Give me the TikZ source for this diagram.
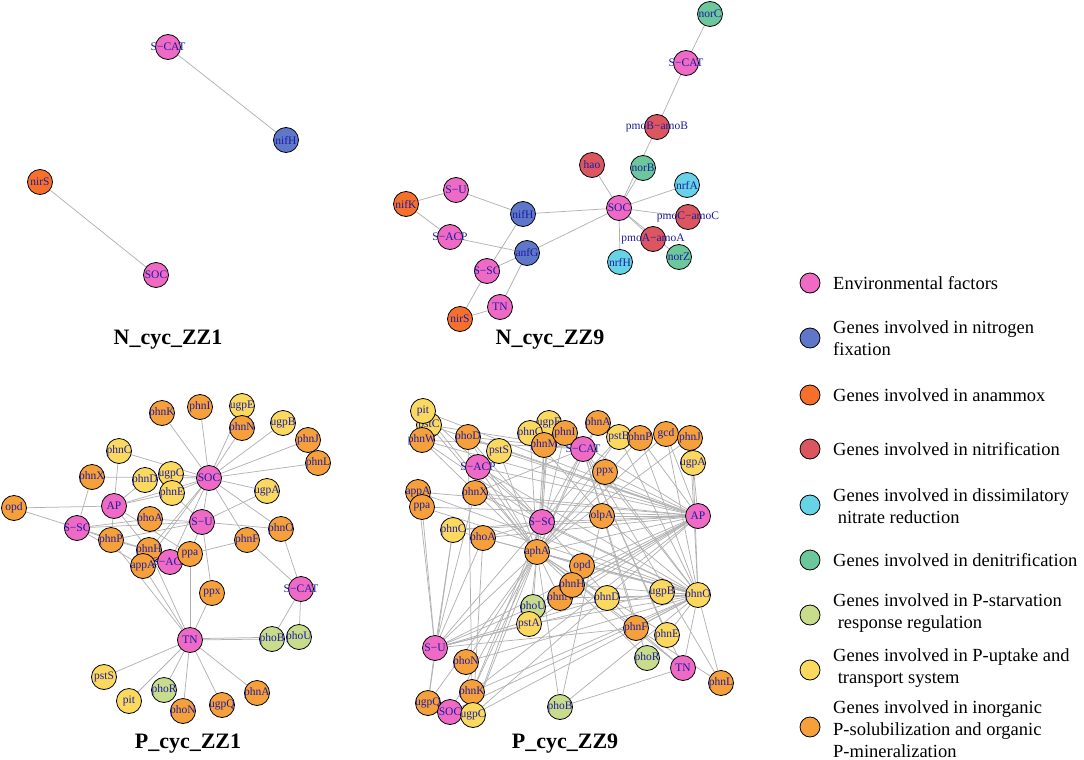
\documentclass[tikz,border=0pt]{standalone}
\usepackage{fontspec}
\setmainfont{Liberation Serif}
\usetikzlibrary{backgrounds}

\definecolor{envpink}{RGB}{238,106,196}
\definecolor{fixblue}{RGB}{94,119,201}
\definecolor{anamorange}{RGB}{246,112,44}
\definecolor{nitrred}{RGB}{220,86,96}
\definecolor{dnracyan}{RGB}{102,211,230}
\definecolor{denitgreen}{RGB}{108,199,157}
\definecolor{starvegreen}{RGB}{200,220,140}
\definecolor{uptakeyellow}{RGB}{251,217,95}
\definecolor{minorange}{RGB}{246,160,60}
\definecolor{labblue}{RGB}{28,28,160}

\begin{document}
\begin{tikzpicture}[x=1pt, y=-1pt,
  gene/.style={circle, draw=black, line width=0.8pt, minimum size=25pt, inner sep=0pt, label={[glabel]center:#1}},
  glabel/.style={text=labblue, font=\fontsize{11.5}{11.5}\selectfont, inner sep=0pt},
  env/.style={gene=#1, fill=envpink},
  nfix/.style={gene=#1, fill=fixblue},
  anam/.style={gene=#1, fill=anamorange},
  nitr/.style={gene=#1, fill=nitrred},
  dnra/.style={gene=#1, fill=dnracyan},
  denit/.style={gene=#1, fill=denitgreen},
  starve/.style={gene=#1, fill=starvegreen},
  uptake/.style={gene=#1, fill=uptakeyellow},
  mineral/.style={gene=#1, fill=minorange},
  link/.style={draw=gray!60, line width=0.75pt},
  title/.style={font=\fontsize{22}{22}\selectfont\bfseries},
  legdot/.style={circle, draw=black, line width=0.8pt, minimum size=20pt, inner sep=0pt},
  legtext/.style={anchor=west, align=left, font=\fontsize{18.5}{22}\selectfont, inner sep=0pt}
]
\useasboundingbox (0,0) rectangle (1084,760);

% N_cyc_ZZ1
\node[env=S−CAT] (ascat) at (168,47) {};
\node[nfix=nifH] (anifH) at (286,140) {};
\node[anam=nirS] (anirS) at (40,182) {};
\node[env=SOC] (asoc) at (156,275) {};
\node[title] (tN1) at (168,340) {N\_cyc\_ZZ1};

% N_cyc_ZZ9
\node[denit=norC] (bnorC) at (710,14) {};
\node[env=S−CAT] (bscat) at (686,63) {};
\node[nitr=pmoB−amoB] (bpmoB) at (657,127) {};
\node[nitr=hao] (bhao) at (592,165) {};
\node[denit=norB] (bnorB) at (643,168) {};
\node[dnra=nrfA] (bnrfA) at (687,185) {};
\node[env=SOC] (bsoc) at (619,208) {};
\node[nitr=pmoC−amoC] (bpmoC) at (688,217) {};
\node[nitr=pmoA−amoA] (bpmoA) at (653,239) {};
\node[denit=norZ] (bnorZ) at (679,257) {};
\node[dnra=nrfH] (bnrfH) at (620,262) {};
\node[env=S−U] (bsu) at (456,190) {};
\node[anam=nifK] (bnifK) at (406,204) {};
\node[nfix=nifH] (bnifH) at (523,214) {};
\node[env=S−ACP] (bsacp) at (450,237) {};
\node[nfix=anfG] (banfG) at (527,253) {};
\node[env=S−SC] (bssc) at (487,271) {};
\node[env=TN] (btn) at (500,307) {};
\node[anam=nirS] (bnirS) at (460,319) {};
\node[title] (tN9) at (550,340) {N\_cyc\_ZZ9};

% P_cyc_ZZ1
\node[mineral=phnK] (cphnK) at (162,413) {};
\node[mineral=phnI] (cphnI) at (200,407) {};
\node[uptake=ugpE] (cugpE) at (242,406) {};
\node[mineral=phnN] (cphnN) at (242,428) {};
\node[uptake=ugpB] (cugpB) at (283,423) {};
\node[mineral=phnJ] (cphnJ) at (308,440) {};
\node[mineral=phnL] (cphnL) at (318,463) {};
\node[uptake=phnC] (cphnC) at (119,451) {};
\node[uptake=ugpC] (cugpC) at (171,474) {};
\node[mineral=phnX] (cphnX) at (92,477) {};
\node[uptake=phnD] (cphnD) at (145,480) {};
\node[uptake=phnE] (cphnE) at (172,493) {};
\node[env=SOC] (csoc) at (209,478) {};
\node[uptake=ugpA] (cugpA) at (267,491) {};
\node[mineral=opd] (copd) at (14,508) {};
\node[env=AP] (cap) at (114,506) {};
\node[mineral=phoA] (cphoA) at (150,519) {};
\node[env=S−U] (csu) at (202,522) {};
\node[env=S−SC] (cssc) at (77,528) {};
\node[mineral=phnO] (cphnO) at (281,529) {};
\node[mineral=phnP] (cphnP) at (111,540) {};
\node[mineral=phnF] (cphnF) at (247,540) {};
\node[mineral=phnH] (cphnH) at (149,550) {};
\node[mineral=appA] (cappA) at (143,566) {};
\node[env=S−ACP] (csacp) at (170,562) {};
\node[mineral=ppa] (cppa) at (190,554) {};
\node[mineral=ppx] (cppx) at (212,593) {};
\node[env=S−CAT] (cscat) at (301,589) {};
\node[env=TN] (ctn) at (190,640) {};
\node[starve=phoB] (cphoB) at (272,639) {};
\node[starve=phoU] (cphoU) at (299,637) {};
\node[uptake=pstS] (cpstS) at (104,677) {};
\node[uptake=pit] (cpit) at (129,701) {};
\node[starve=phoR] (cphoR) at (164,690) {};
\node[mineral=phoN] (cphoN) at (183,711) {};
\node[mineral=ugpQ] (cugpQ) at (222,705) {};
\node[mineral=phnA] (cphnA) at (257,693) {};
\node[title] (tP1) at (188,744) {P\_cyc\_ZZ1};

% P_cyc_ZZ9
\node[uptake=pstC] (dpstC) at (429,425) {};
\node[uptake=pit] (dpit) at (423,411) {};
\node[mineral=phnW] (dphnW) at (422,440) {};
\node[mineral=phoD] (dphoD) at (468,437) {};
\node[uptake=ugpE] (dugpE) at (549,423) {};
\node[uptake=phnC] (dphnCa) at (530,433) {};
\node[mineral=phnM] (dphnM) at (544,445) {};
\node[mineral=phnI] (dphnI) at (565,433) {};
\node[uptake=pstS] (dpstS) at (499,451) {};
\node[env=S−ACP] (dsacp) at (478,467) {};
\node[mineral=phnA] (dphnA) at (598,423) {};
\node[env=S−CAT] (dscat) at (583,449) {};
\node[uptake=pstB] (dpstB) at (619,437) {};
\node[mineral=phnP] (dphnP) at (640,438) {};
\node[mineral=gcd] (dgcd) at (666,434) {};
\node[mineral=phnJ] (dphnJ) at (690,438) {};
\node[uptake=ugpA] (dugpA) at (693,463) {};
\node[mineral=ppx] (dppx) at (605,472) {};
\node[mineral=appA] (dappA) at (418,492) {};
\node[mineral=ppa] (dppa) at (422,507) {};
\node[mineral=phnX] (dphnX) at (475,493) {};
\node[mineral=olpA] (dolpA) at (602,516) {};
\node[env=AP] (dap) at (698,516) {};
\node[env=S−SC] (dssc) at (542,522) {};
\node[uptake=phnC] (dphnCb) at (453,530) {};
\node[mineral=phoA] (dphoA) at (483,538) {};
\node[mineral=aphA] (daphA) at (537,552) {};
\node[mineral=opd] (dopd) at (582,566) {};
\node[mineral=phnN] (dphnN) at (560,598) {};
\node[mineral=phnH] (dphnH) at (572,585) {};
\node[uptake=phnD] (dphnD) at (607,598) {};
\node[uptake=ugpB] (dugpB) at (662,592) {};
\node[uptake=phnO] (dphnO) at (698,595) {};
\node[starve=phoU] (dphoU) at (533,607) {};
\node[uptake=pstA] (dpstA) at (529,624) {};
\node[mineral=phnF] (dphnF) at (636,628) {};
\node[uptake=phnE] (dphnE) at (667,635) {};
\node[starve=phoR] (dphoR) at (647,658) {};
\node[env=TN] (dtn) at (683,668) {};
\node[mineral=phnL] (dphnL) at (721,683) {};
\node[starve=phoB] (dphoB) at (560,707) {};
\node[env=S−U] (dsu) at (435,648) {};
\node[mineral=phoN] (dphoN) at (466,662) {};
\node[mineral=phnK] (dphnK) at (472,692) {};
\node[mineral=ugpQ] (dugpQ) at (428,703) {};
\node[env=SOC] (dsoc) at (450,712) {};
\node[uptake=ugpC] (dugpC) at (473,715) {};
\node[title] (tP9) at (565,744) {P\_cyc\_ZZ9};

% Edges behind the nodes
\begin{scope}[on background layer]
\draw[link] (ascat) -- (anifH);
\draw[link] (anirS) -- (asoc);

\draw[link] (bnorC) -- (bscat);
\draw[link] (bscat) -- (bpmoB);
\draw[link] (bpmoB) -- (bsoc);
\foreach \t in {hao,norB,nrfA,pmoC,pmoA,norZ,nrfH,nifH,anfG}
  \draw[link] (bsoc) -- (b\t);
\draw[link] (bsu) -- (bnifK);
\draw[link] (bsu) -- (bnifH);
\draw[link] (bnifK) -- (bsacp);
\draw[link] (bsacp) -- (banfG);
\draw[link] (bnifH) -- (bssc);
\draw[link] (bssc) -- (banfG);
\draw[link] (banfG) -- (btn);
\draw[link] (bssc) -- (bnirS);
\draw[link] (bnirS) -- (btn);

\foreach \t in {phnK,phnI,ugpE,phnN,ugpB,phnJ,phnL,phnC,ugpC,phnX,phnE,ugpA,ap,su,phnO,phnF,sacp,appA,phnH}
  \draw[link] (csoc) -- (c\t);
\foreach \t in {phnC,phnD,phnE,opd,phnP,ppa,phnH}
  \draw[link] (cap) -- (c\t);
\foreach \t in {opd,phnX,phoA,su,phnH,appA,phnP}
  \draw[link] (cssc) -- (c\t);
\foreach \t in {phnE,ugpA,phnO,phnP,ppa,ppx,phoA}
  \draw[link] (csu) -- (c\t);
\draw[link] (cphnF) -- (cscat);
\draw[link] (cphnO) -- (cscat);
\draw[link] (cphnF) -- (cppa);
\draw[link] (cscat) -- (cphoB);
\draw[link] (cscat) -- (cphoU);
\draw[link] (cphnP) -- (cphnH);
\foreach \t in {phoB,ppx,ppa,appA,phnH,phnP,pstS,pit,phoR,phoN,ugpQ,phnA}
  \draw[link] (ctn) -- (c\t);
\draw[link] ([yshift=1.5pt]ctn.east) -- ([yshift=1.5pt]cphoB.west);

\foreach \t in {pit,pstC,phnW,phoD,pstS,sacp,phnX,appA,ppa,ssc,phnCb,phoA,aphA,opd,phnH,phnN,phoU,pstA,su,phnK,ugpC,ugpA,gcd,phnP,phnI,ppx,olpA}
  \draw[link] (dap) -- (d\t);
\foreach \t in {ugpA,phnJ,gcd,pstB,phnP,scat,ppx,olpA,ugpB,phnD,phnH,opd,aphA,ssc,phoA,phnX,ppa,appA,phnCb,phoU,pstA,phnN,phnK,soc,ugpC,phoN,phoB,phnE,phnF,tn,phnL,sacp}
  \draw[link] (dphnO) -- (d\t);
\foreach \t in {pit,pstC,phnW,phoD,pstS,sacp,phnCa,ugpE,phnM,phnI,scat,phnA,pstB,phnP,gcd,phnJ,ppx,phoU,pstA,su,phoN,phnK,ugpC,soc,ugpQ,phoB,phnF,phnE,phoR,tn,phnD,phnN,opd}
  \draw[link] (daphA) -- (d\t);
\foreach \t in {phnW,phoD,pit,sacp,phnM,ugpE,phnA,pstB,phnCb,phoA,phnK,ugpC,su,phnF}
  \draw[link] (dssc) -- (d\t);
\foreach \t in {phnCb,phoA,phnX,appA,ppa,ugpQ,pstA,phoU,phnD,ugpB,phnF}
  \draw[link] (dsu) -- (d\t);
\foreach \t in {phnW,pstC,phoD,phnX,phnF,phnE,phoR,tn,phnL}
  \draw[link] (dscat) -- (d\t);
\draw[link] (dtn) -- (dphnF);
\draw[link] (dtn) -- (dphoB);
\draw[link] (dphnL) -- (dphnF);
\draw[link] (dphoD) -- (dphnK);
\draw[link] (dphnCb) -- (dugpQ);
\draw[link] (dphoA) -- (dugpC);
\draw[link] (dolpA) -- (dphnCa);
\draw[link] (dolpA) -- (dphoB);
\end{scope}

% Legend
\node[legdot, fill=envpink] (leg1) at (810,283) {};
\node[legtext] (legt1) at (833,283) {Environmental factors};
\node[legdot, fill=fixblue] (leg2) at (810,338) {};
\node[legtext] (legt2) at (833,338) {Genes involved in nitrogen\\fixation};
\node[legdot, fill=anamorange] (leg3) at (810,395) {};
\node[legtext] (legt3) at (833,395) {Genes involved in anammox};
\node[legdot, fill=nitrred] (leg4) at (810,449) {};
\node[legtext] (legt4) at (833,449) {Genes involved in nitrification};
\node[legdot, fill=dnracyan] (leg5) at (810,505) {};
\node[legtext] (legt5) at (833,506) {Genes involved in dissimilatory\\\hspace*{0.25em}nitrate reduction};
\node[legdot, fill=denitgreen] (leg6) at (810,560) {};
\node[legtext] (legt6) at (833,560) {Genes involved in denitrification};
\node[legdot, fill=starvegreen] (leg7) at (810,615) {};
\node[legtext] (legt7) at (833,613) {Genes involved in P-starvation\\\hspace*{0.25em}response regulation};
\node[legdot, fill=uptakeyellow] (leg8) at (810,670) {};
\node[legtext] (legt8) at (833,668) {Genes involved in P-uptake and\\\hspace*{0.25em}transport system};
\node[legdot, fill=minorange] (leg9) at (810,727) {};
\node[legtext] (legt9) at (833,729) {Genes involved in inorganic\\P-solubilization and organic\\P-mineralization};
\end{tikzpicture}
\end{document}
